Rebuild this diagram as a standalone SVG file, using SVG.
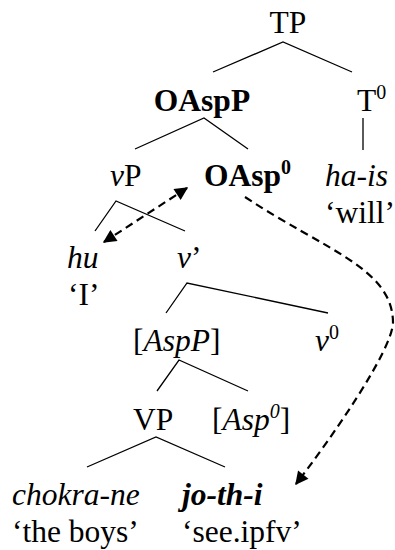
<svg xmlns="http://www.w3.org/2000/svg" width="395" height="550" viewBox="0 0 395 550">
<defs>
<style>
text{font-family:"Liberation Serif","Times New Roman",serif;font-size:31.5px;fill:#000}
.i{font-style:italic}
.b{font-weight:bold}
.sup{font-size:20px}
.edge{stroke:#000;stroke-width:1.3;fill:none}
.move{stroke:#000;stroke-width:2.2;fill:none;stroke-dasharray:8 5}
</style>
<marker id="ah" viewBox="0 0 10 10" refX="9" refY="5" markerWidth="7" markerHeight="6" markerUnits="strokeWidth" orient="auto-start-reverse">
<path d="M0,0 L10,5 L0,10 z" fill="#000"/>
</marker>
</defs>
<rect width="395" height="550" fill="#fff"/>
<g id="connectors">
<polyline class="edge" points="213,72 283,42 352,72"/>
<polyline class="edge" points="135,149 204,118 248,149"/>
<line class="edge" x1="363" y1="118" x2="363" y2="150"/>
<polyline class="edge" points="95,231 116,201 185,231"/>
<polyline class="edge" points="166,313 187,283 328,313"/>
<polyline class="edge" points="157,391 179,360 248,391"/>
<polyline class="edge" points="87,467 156,437 225,467"/>
<line class="move" x1="104" y1="242" x2="187" y2="188" marker-start="url(#ah)" marker-end="url(#ah)"/>
<path class="move" d="M245,197 C325,250 392,268 393,322 C393,350 330,440 296,484" marker-end="url(#ah)"/>
</g>
<g id="n-TP"><text x="288" y="33" text-anchor="middle">TP</text></g>
<g id="n-OAspP"><text class="b" x="202" y="111" text-anchor="middle">OAspP</text></g>
<g id="n-T0"><text x="357" y="111">T<tspan class="sup" dy="-12">0</tspan></text></g>
<g id="n-vP"><text x="110" y="186"><tspan class="i">v</tspan>P</text></g>
<g id="n-OAsp0"><text class="b" x="204" y="186">OAsp<tspan class="sup" dy="-12">0</tspan></text></g>
<g id="n-hais"><text class="i" x="325" y="186">ha-is</text><text x="325" y="223">‘will’</text></g>
<g id="n-hu"><text class="i" x="67" y="268">hu</text><text x="68" y="305">‘I’</text></g>
<g id="n-vbar"><text x="177" y="268"><tspan class="i">v</tspan>’</text></g>
<g id="n-AspP"><text x="133" y="351">[<tspan class="i">AspP</tspan>]</text></g>
<g id="n-v0"><text x="315" y="351"><tspan class="i">v</tspan><tspan class="sup" dy="-12">0</tspan></text></g>
<g id="n-VP"><text x="133" y="430">VP</text></g>
<g id="n-Asp0"><text x="212" y="430">[<tspan class="i">Asp</tspan><tspan class="i sup" dy="-12">0</tspan><tspan dy="12">]</tspan></text></g>
<g id="n-chokra"><text class="i" x="12" y="505">chokra-ne</text><text x="12" y="542">‘the boys’</text></g>
<g id="n-jothi"><text class="i b" x="182" y="505">jo-th-i</text><text x="182" y="542">‘see.ipfv’</text></g>
</svg>
